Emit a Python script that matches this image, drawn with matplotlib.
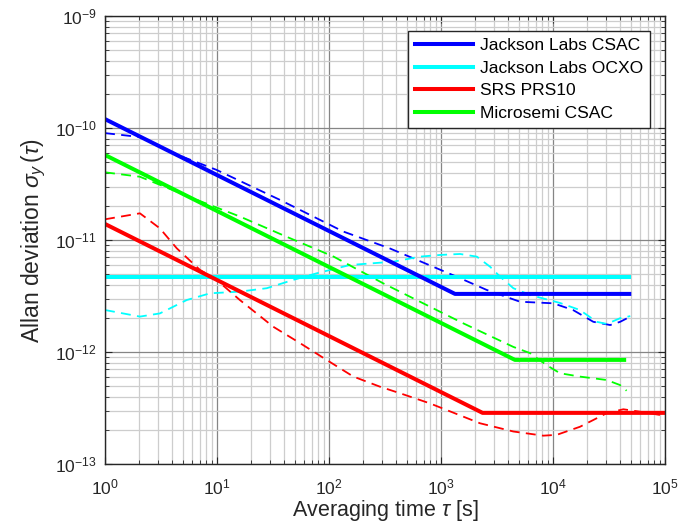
import numpy as np
import matplotlib
matplotlib.use("Agg")
import matplotlib.pyplot as plt

plt.rcParams['font.family'] = ['Liberation Sans', 'DejaVu Sans']
plt.rcParams['mathtext.fontset'] = 'custom'
plt.rcParams['mathtext.rm'] = 'Liberation Sans'
plt.rcParams['mathtext.it'] = 'Liberation Sans:italic'
plt.rcParams['mathtext.bf'] = 'Liberation Sans:bold'

labels = ['Jackson Labs CSAC', 'Jackson Labs OCXO', 'SRS PRS10', 'Microsemi CSAC']
colors = ['#0000ff', '#00ffff', '#ff0000', '#00ff00']

# datasheet lines (break points on log-log axes)
spec_tau = [[1, 1333, 5e4],
            [1, 5e4],
            [1, 2350, 1e5],
            [1, 4570, 4.5e4]]
spec_adev = [[1.2e-10, 3.3e-12, 3.3e-12],
             [4.7e-12, 4.7e-12],
             [1.39e-11, 2.86e-13, 2.86e-13],
             [5.74e-11, 8.5e-13, 8.5e-13]]

# measured curves (dashed)
csac_tau = [1, 2.05, 4.1, 9.93, 36.5, 134, 350, 1380, 2560, 5070, 10070, 15100, 22900, 32400, 39800, 49000]
csac_adev = [9.0e-11, 8.3e-11, 5.94e-11, 4.22e-11, 2.28e-11, 1.19e-11, 8.4e-12, 4.7e-12, 3.58e-12,
             2.81e-12, 2.72e-12, 2.37e-12, 1.86e-12, 1.74e-12, 1.86e-12, 2.07e-12]
ocxo_tau = [1, 2.05, 3.09, 5.37, 8.66, 16.0, 27.8, 47.9, 77.6, 154, 375, 649, 977, 1479, 2089, 2738,
            3365, 4426, 6237, 11550, 17380, 24550, 30200, 39630, 48980]
ocxo_adev = [2.37e-12, 2.07e-12, 2.21e-12, 2.91e-12, 3.34e-12, 3.46e-12, 3.71e-12, 4.40e-12, 5.04e-12,
             5.98e-12, 6.40e-12, 7.10e-12, 7.35e-12, 7.50e-12, 7.10e-12, 5.78e-12, 4.71e-12, 3.71e-12,
             3.23e-12, 2.74e-12, 2.37e-12, 1.86e-12, 1.78e-12, 2.00e-12, 2.09e-12]
prs_tau = [1, 2.05, 3.09, 4.37, 7.05, 9.93, 16.0, 31.8, 55.1, 95.3, 165, 285, 431, 794, 2228, 4426,
           8185, 10790, 17420, 30130, 42460, 59840, 90160]
prs_adev = [1.53e-11, 1.73e-11, 1.27e-11, 8.43e-12, 5.40e-12, 4.40e-12, 2.91e-12, 1.68e-12, 1.20e-12,
            8.49e-13, 6.03e-13, 4.90e-13, 4.28e-13, 3.48e-13, 2.31e-13, 1.95e-13, 1.79e-13, 1.82e-13,
            2.15e-13, 2.84e-13, 3.08e-13, 2.93e-13, 2.74e-13]
msc_tau = [1, 2.05, 6.61, 16.0, 41.7, 110, 305, 562, 1585, 4426, 6237, 8710, 11550, 17380, 30200, 39630, 45390]
msc_adev = [4.02e-11, 3.67e-11, 2.28e-11, 1.62e-11, 1.07e-11, 7.10e-12, 4.10e-12, 3.02e-12, 1.80e-12,
            1.11e-12, 9.77e-13, 7.66e-13, 6.46e-13, 6.03e-13, 5.62e-13, 5.07e-13, 4.51e-13]

meas_tau = [csac_tau, ocxo_tau, prs_tau, msc_tau]
meas_adev = [csac_adev, ocxo_adev, prs_adev, msc_adev]

fig = plt.figure(figsize=(6.81, 5.29), dpi=100)
ax = fig.add_axes([0.1542, 0.1229, 0.8223, 0.8469])

for i in range(4):
    ax.loglog(meas_tau[i], meas_adev[i], color=colors[i], lw=1.3, dashes=(5.5, 3.5))
for i in [1, 0, 2, 3]:
    ax.loglog(spec_tau[i], spec_adev[i], color=colors[i], lw=2.9, solid_capstyle='butt')

ax.set_xlim(1, 1e5)
ax.set_ylim(1e-13, 1e-9)
ax.grid(True, which='minor', color='#cdcdcd', lw=0.9)
ax.grid(True, which='major', color='#858585', lw=0.9)
ax.set_axisbelow(True)
ax.tick_params(which='both', direction='in', top=True, right=True, labelsize=12.6, colors='#262626')
ax.tick_params(which='major', length=5)
ax.tick_params(which='minor', length=3)
ax.tick_params(axis='x', pad=10)
ax.tick_params(axis='y', pad=6)
for s in ax.spines.values():
    s.set_color('#262626')
    s.set_linewidth(1.0)

ax.set_xlabel(r'Averaging time $\tau$ [s]', fontsize=15.5, color='#262626', labelpad=0)
ax.set_ylabel(r'Allan deviation $\sigma_y\,(\tau)$', fontsize=16.5, color='#262626', labelpad=5)

handles = [plt.Line2D([], [], color=c, lw=2.9) for c in colors]
leg = ax.legend(handles, labels, loc='upper right', fontsize=12.6, fancybox=False, framealpha=1,
                edgecolor='#262626', handlelength=3.3, handletextpad=0.4, labelspacing=0.42,
                borderaxespad=0.85, borderpad=0.4)
leg.get_frame().set_linewidth(1.0)

fig.savefig('out.png', dpi=100)
